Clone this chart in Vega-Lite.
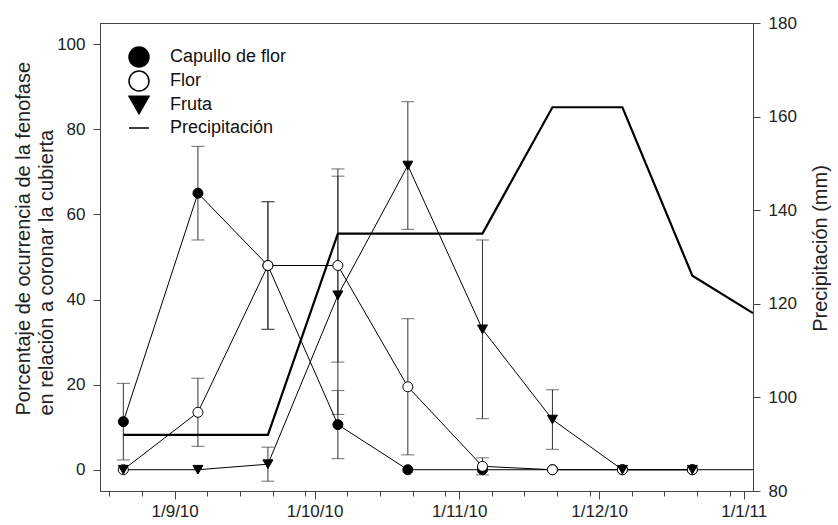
{
  "$schema": "https://vega.github.io/schema/vega-lite/v6.json",
  "width": 653,
  "height": 468,
  "autosize": {"type": "none"},
  "padding": {"left": 100, "top": 23, "right": 85, "bottom": 34},
  "config": {
    "font": "Liberation Sans",
    "view": {"stroke": "#444", "strokeWidth": 1},
    "axis": {"grid": false, "domainColor": "#444", "tickColor": "#444", "labelColor": "#222", "titleColor": "#222", "labelFont": "Liberation Sans", "titleFont": "Liberation Sans", "labelFontSize": 17, "titleFontSize": 20, "titleFontWeight": "normal"}
  },
  "datasets": {
    "pheno": [
      {"fecha": "2010-08-21T00:00:00", "serie": "Capullo de flor", "valor": 11.3, "lo": 2.3, "hi": 20.3},
      {"fecha": "2010-09-06T00:00:00", "serie": "Capullo de flor", "valor": 65, "lo": 54, "hi": 76},
      {"fecha": "2010-09-21T00:00:00", "serie": "Capullo de flor", "valor": 48, "lo": 33, "hi": 63},
      {"fecha": "2010-10-06T00:00:00", "serie": "Capullo de flor", "valor": 10.6, "lo": 2.6, "hi": 18.6},
      {"fecha": "2010-10-21T00:00:00", "serie": "Capullo de flor", "valor": 0, "lo": null, "hi": null},
      {"fecha": "2010-11-06T00:00:00", "serie": "Capullo de flor", "valor": 0, "lo": null, "hi": null},
      {"fecha": "2010-11-21T00:00:00", "serie": "Capullo de flor", "valor": 0, "lo": null, "hi": null},
      {"fecha": "2010-12-06T00:00:00", "serie": "Capullo de flor", "valor": 0, "lo": null, "hi": null},
      {"fecha": "2010-12-21T00:00:00", "serie": "Capullo de flor", "valor": 0, "lo": null, "hi": null},
      {"fecha": "2011-01-03T00:00:00", "serie": "Capullo de flor", "valor": 0, "lo": null, "hi": null},
      {"fecha": "2010-08-21T00:00:00", "serie": "Flor", "valor": 0, "lo": null, "hi": null},
      {"fecha": "2010-09-06T00:00:00", "serie": "Flor", "valor": 13.5, "lo": 5.5, "hi": 21.5},
      {"fecha": "2010-09-21T00:00:00", "serie": "Flor", "valor": 48, "lo": 33, "hi": 63},
      {"fecha": "2010-10-06T00:00:00", "serie": "Flor", "valor": 48, "lo": 25.3, "hi": 70.7},
      {"fecha": "2010-10-21T00:00:00", "serie": "Flor", "valor": 19.5, "lo": 3.5, "hi": 35.5},
      {"fecha": "2010-11-06T00:00:00", "serie": "Flor", "valor": 0.8, "lo": -1.2, "hi": 2.8},
      {"fecha": "2010-11-21T00:00:00", "serie": "Flor", "valor": 0, "lo": null, "hi": null},
      {"fecha": "2010-12-06T00:00:00", "serie": "Flor", "valor": 0, "lo": null, "hi": null},
      {"fecha": "2010-12-21T00:00:00", "serie": "Flor", "valor": 0, "lo": null, "hi": null},
      {"fecha": "2010-08-21T00:00:00", "serie": "Fruta", "valor": 0, "lo": null, "hi": null},
      {"fecha": "2010-09-06T00:00:00", "serie": "Fruta", "valor": 0, "lo": null, "hi": null},
      {"fecha": "2010-09-21T00:00:00", "serie": "Fruta", "valor": 1.3, "lo": -2.7, "hi": 5.3},
      {"fecha": "2010-10-06T00:00:00", "serie": "Fruta", "valor": 41, "lo": 13, "hi": 69},
      {"fecha": "2010-10-21T00:00:00", "serie": "Fruta", "valor": 71.5, "lo": 56.5, "hi": 86.5},
      {"fecha": "2010-11-06T00:00:00", "serie": "Fruta", "valor": 33, "lo": 12, "hi": 54},
      {"fecha": "2010-11-21T00:00:00", "serie": "Fruta", "valor": 11.8, "lo": 4.8, "hi": 18.8},
      {"fecha": "2010-12-06T00:00:00", "serie": "Fruta", "valor": 0, "lo": null, "hi": null},
      {"fecha": "2010-12-21T00:00:00", "serie": "Fruta", "valor": 0, "lo": null, "hi": null}
    ],
    "precip": [
      {"fecha": "2010-08-21T00:00:00", "precip": 92},
      {"fecha": "2010-09-06T00:00:00", "precip": 92},
      {"fecha": "2010-09-21T00:00:00", "precip": 92},
      {"fecha": "2010-10-06T00:00:00", "precip": 135},
      {"fecha": "2010-10-21T00:00:00", "precip": 135},
      {"fecha": "2010-11-06T00:00:00", "precip": 135},
      {"fecha": "2010-11-21T00:00:00", "precip": 162},
      {"fecha": "2010-12-06T00:00:00", "precip": 162},
      {"fecha": "2010-12-21T00:00:00", "precip": 126},
      {"fecha": "2011-01-03T00:00:00", "precip": 118}
    ]
  },
  "encoding": {
    "x": {
      "field": "fecha", "type": "temporal",
      "scale": {"domain": [{"year": 2010, "month": 8, "date": 16}, {"year": 2011, "month": 1, "date": 3}]},
      "axis": {
        "title": null,
        "values": [
          {"year": 2010, "month": 8, "date": 18}, {"year": 2010, "month": 8, "date": 25},
          {"year": 2010, "month": 9, "date": 1}, {"year": 2010, "month": 9, "date": 8}, {"year": 2010, "month": 9, "date": 15}, {"year": 2010, "month": 9, "date": 22}, {"year": 2010, "month": 9, "date": 29},
          {"year": 2010, "month": 10, "date": 1}, {"year": 2010, "month": 10, "date": 8}, {"year": 2010, "month": 10, "date": 15}, {"year": 2010, "month": 10, "date": 22}, {"year": 2010, "month": 10, "date": 29},
          {"year": 2010, "month": 11, "date": 1}, {"year": 2010, "month": 11, "date": 8}, {"year": 2010, "month": 11, "date": 15}, {"year": 2010, "month": 11, "date": 22}, {"year": 2010, "month": 11, "date": 29},
          {"year": 2010, "month": 12, "date": 1}, {"year": 2010, "month": 12, "date": 8}, {"year": 2010, "month": 12, "date": 15}, {"year": 2010, "month": 12, "date": 22}, {"year": 2010, "month": 12, "date": 29},
          {"year": 2011, "month": 1, "date": 1}
        ],
        "labelExpr": "date(datum.value) === 1 ? timeFormat(datum.value, '%-d/%-m/%y') : ''",
        "tickSize": {"condition": {"test": "date(datum.value) === 1", "value": 8}, "value": 5},
        "labelPadding": 4,
        "labelFlush": false,
        "labelOverlap": false
      }
    }
  },
  "layer": [
    {
      "data": {"name": "pheno"},
      "layer": [
        {
          "transform": [{"filter": "isValid(datum.lo)"}],
          "mark": {"type": "rule", "color": "#333", "strokeWidth": 1},
          "encoding": {
            "y": {
              "field": "lo", "type": "quantitative",
              "scale": {"domain": [-5, 105], "nice": false, "zero": false},
              "axis": {
                "title": ["Porcentaje de ocurrencia de la fenofase", "en relación a coronar la cubierta"],
                "values": [0, 20, 40, 60, 80, 100],
                "tickSize": 7, "labelPadding": 8,
                "titleAngle": -90, "titleAlign": "left", "titleBaseline": "middle",
                "titleX": -77, "titleY": 392, "titleLineHeight": 23
              }
            },
            "y2": {"field": "hi"}
          }
        },
        {
          "transform": [{"filter": "isValid(datum.lo)"}],
          "mark": {"type": "tick", "orient": "horizontal", "size": 13, "thickness": 1, "color": "#333"},
          "encoding": {
            "y": {"field": "lo", "type": "quantitative", "scale": {"domain": [-5, 105], "nice": false, "zero": false}}
          }
        },
        {
          "transform": [{"filter": "isValid(datum.hi)"}],
          "mark": {"type": "tick", "orient": "horizontal", "size": 13, "thickness": 1, "color": "#333"},
          "encoding": {
            "y": {"field": "hi", "type": "quantitative", "scale": {"domain": [-5, 105], "nice": false, "zero": false}}
          }
        },
        {
          "mark": {"type": "line", "color": "black", "strokeWidth": 1},
          "encoding": {
            "y": {"field": "valor", "type": "quantitative", "scale": {"domain": [-5, 105], "nice": false, "zero": false}},
            "detail": {"field": "serie"}
          }
        },
        {
          "transform": [
            {"filter": {"field": "fecha", "lt": {"year": 2011, "month": 1, "date": 1}}}
          ],
          "mark": {"type": "point", "size": 100, "stroke": "black", "strokeWidth": 1, "opacity": 1, "fillOpacity": 1},
          "encoding": {
            "y": {"field": "valor", "type": "quantitative", "scale": {"domain": [-5, 105], "nice": false, "zero": false}},
            "shape": {
              "field": "serie", "type": "nominal",
              "scale": {"domain": ["Capullo de flor", "Flor", "Fruta", "Precipitación"], "range": ["circle", "circle", "triangle-down", "stroke"]},
              "legend": {
                "title": null, "orient": "top-left", "offset": 23,
                "symbolSize": 400, "symbolOffset": 5, "labelFontSize": 18, "labelFont": "Liberation Sans", "labelColor": "#111",
                "labelOffset": 20, "rowPadding": -3, "padding": 0,
                "encode": {
                  "symbols": {
                    "stroke": {"value": "black"},
                    "strokeWidth": {"value": 1},
                    "size": {"value": 105},
                    "opacity": {"value": 1}
                  }
                }
              }
            },
            "fill": {
              "field": "serie", "type": "nominal",
              "scale": {"domain": ["Capullo de flor", "Flor", "Fruta", "Precipitación"], "range": ["black", "white", "black", "black"]},
              "legend": null
            }
          }
        }
      ]
    },
    {
      "data": {"name": "precip"},
      "mark": {"type": "line", "color": "black", "strokeWidth": 2.2},
      "encoding": {
        "y": {
          "field": "precip", "type": "quantitative",
          "scale": {"domain": [80, 180], "nice": false, "zero": false},
          "axis": {
            "orient": "right", "title": "Precipitación (mm)",
            "values": [80, 100, 120, 140, 160, 180],
            "tickSize": 7, "labelPadding": 8,
            "titleAngle": -90, "titleAlign": "center", "titleBaseline": "middle",
            "titleX": 67, "titleY": 225
          }
        }
      }
    }
  ],
  "resolve": {"scale": {"y": "independent"}}
}
